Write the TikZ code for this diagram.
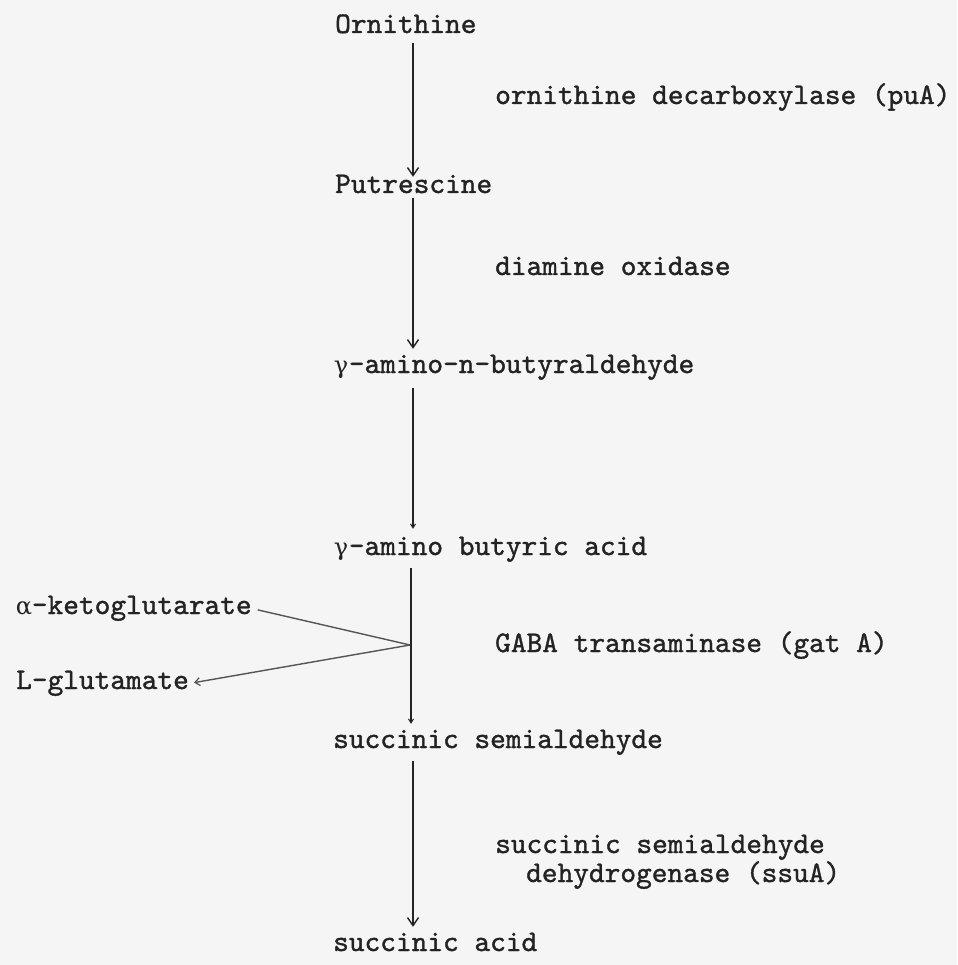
\documentclass[tikz,border=0pt]{standalone}
\usepackage{fontspec}
\setmonofont{lmmono10-regular.otf}[FakeBold=1.2]
\newfontfamily\grk{DejaVu Serif}
\usetikzlibrary{arrows.meta}
\definecolor{bg}{RGB}{245,245,245}
\definecolor{ink}{RGB}{35,35,35}
\definecolor{side}{RGB}{85,85,85}
\newcommand{\gk}[1]{\makebox[0.525em][c]{\grk\fontsize{24}{28}\selectfont #1}}
\tikzset{
  lbl/.style={anchor=base west, inner sep=0pt, text=ink, font=\ttfamily\fontsize{29.9}{32}\selectfont, text height=16pt, text depth=5pt},
  arr/.style={draw=ink, line width=1.4pt, -{Straight Barb[length=8pt,width=11pt,line width=1.4pt]}},
  faint/.style={draw=ink, line width=1.4pt, -{Straight Barb[length=4pt,width=5pt,line width=1pt]}},
  sideln/.style={draw=side, line width=1.4pt},
}
\begin{document}
\begin{tikzpicture}[x=1pt,y=-1pt]
\fill[bg] (0,0) rectangle (957,965);
\useasboundingbox (0,0) rectangle (957,965);
\coordinate (ax) at (413,0);
\coordinate (ax4) at (411,0);
% metabolites
\node[lbl] (orn) at (335,33) {Ornithine};
\node[lbl] (put) at (335,193) {Putrescine};
\node[lbl] (gab) at (333,373) {\gk{γ}-amino-n-butyraldehyde};
\node[lbl] (gaba) at (333,555) {\gk{γ}-amino butyric acid};
\node[lbl] (ssa) at (333,748) {succinic semialdehyde};
\node[lbl] (sa) at (333,951) {succinic acid};
% enzymes
\node[lbl] (e1) at (495,104) {ornithine decarboxylase (puA)};
\node[lbl] (e2) at (495,275) {diamine oxidase};
\node[lbl] (e3) at (495,652) {GABA transaminase (gat A)};
\node[lbl] (e4) at (495,853) {succinic semialdehyde};
\node[lbl] (e4b) at (526,882) {dehydrogenase (ssuA)};
% side substrates
\node[lbl] (akg) at (16,614) {\gk{α}-ketoglutarate};
\node[lbl] (glu) at (16,689) {L-glutamate};
% arrows
\draw[arr] (orn.south -| ax) ++(0,5) -- (put.north -| ax);
\draw[arr, shorten >=8pt] (put.south -| ax) -- (gab.north -| ax);
\draw[faint, shorten <=10pt, shorten >=10pt] (gab.south -| ax) -- (gaba.north -| ax);
\draw[faint, shorten <=8pt, shorten >=8pt] (gaba.south -| ax4) -- (ssa.north -| ax4);
\draw[arr, shorten <=8pt, shorten >=8pt] (ssa.south -| ax) -- (sa.north -| ax);
% transamination
\coordinate (tj) at (410,645);
\draw[sideln, shorten <=6pt] (akg.east) -- (tj);
\draw[sideln, -{Straight Barb[length=5pt,width=8pt,line width=1.2pt]}, shorten >=5pt] (tj) -- (glu.east);
\end{tikzpicture}
\end{document}
